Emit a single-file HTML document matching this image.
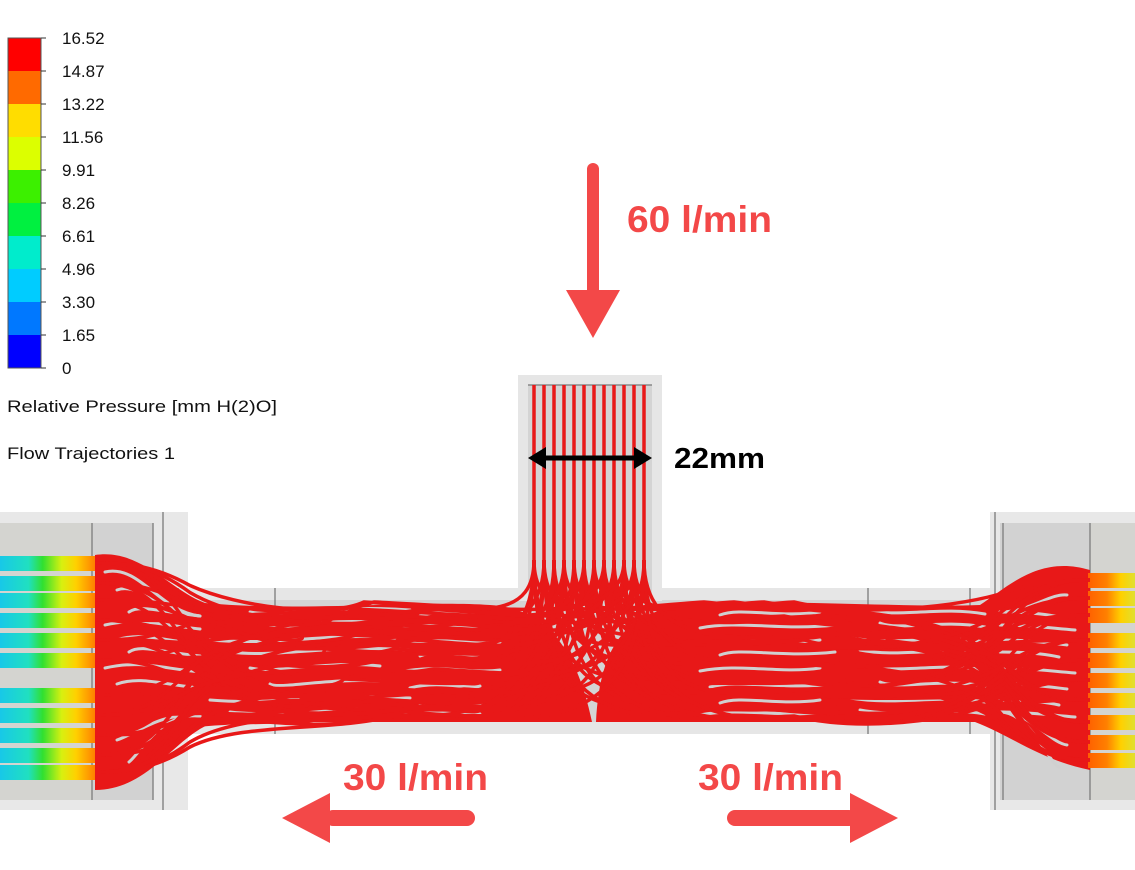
<!DOCTYPE html>
<html><head><meta charset="utf-8"><style>
html,body{margin:0;padding:0;background:#fff;width:1135px;height:870px;overflow:hidden}
svg{display:block}
text{font-family:"Liberation Sans",Arial,sans-serif}
</style></head><body>
<svg id="s" width="1135" height="870" viewBox="0 0 1135 870">
<defs>
<linearGradient id="gl" x1="0" x2="1" y1="0" y2="0">
<stop offset="0" stop-color="#18c8e8"/><stop offset="0.3" stop-color="#20e0c0"/><stop offset="0.45" stop-color="#30e030"/><stop offset="0.65" stop-color="#d8f010"/><stop offset="0.8" stop-color="#ffd000"/><stop offset="1" stop-color="#ff8000"/></linearGradient>
<linearGradient id="gr" x1="1" x2="0" y1="0" y2="0">
<stop offset="0" stop-color="#e0e030"/><stop offset="0.3" stop-color="#ffd000"/><stop offset="0.6" stop-color="#ff8000"/><stop offset="1" stop-color="#ff6000"/></linearGradient>
</defs>
<g>
<rect x="0" y="512" width="188" height="298" fill="#e8e8e8"/>
<rect x="0" y="523" width="153" height="277" fill="#d2d2d2"/>
<rect x="0" y="523" width="92" height="277" fill="#d4d4d0"/>
<rect x="990" y="512" width="145" height="298" fill="#e8e8e8"/>
<rect x="1000" y="523" width="135" height="277" fill="#d2d2d2"/>
<rect x="1090" y="523" width="45" height="277" fill="#d4d4d0"/>
<rect x="175" y="588" width="820" height="146" fill="#e6e6e6"/>
<rect x="175" y="600" width="820" height="122" fill="#d4d4d4"/>
<rect x="518" y="375" width="144" height="226" fill="#e6e6e6"/>
<rect x="528" y="385" width="124" height="216" fill="#d4d4d4"/>
<g stroke="#888" stroke-width="1.5">
<line x1="92" y1="523" x2="92" y2="800"/><line x1="153" y1="523" x2="153" y2="800"/><line x1="163" y1="512" x2="163" y2="810"/>
<line x1="178" y1="588" x2="178" y2="734"/><line x1="275" y1="588" x2="275" y2="734"/>
<line x1="868" y1="588" x2="868" y2="734"/><line x1="970" y1="588" x2="970" y2="734"/>
<line x1="995" y1="512" x2="995" y2="810"/><line x1="1003" y1="523" x2="1003" y2="800"/><line x1="1090" y1="523" x2="1090" y2="800"/>
<line x1="528" y1="385" x2="652" y2="385"/>
</g>
</g>
<g fill="#e81818">
<path d="M95 555 C140 548,170 590,205 603 C300 612,420 600,490 605 C540 608,575 640,592 722 L215 722 C175 735,150 790,95 790 Z"/>
<path d="M1090 570 C1040 555,1010 585,980 605 C900 608,780 598,690 605 C630 610,600 640,596 722 L975 722 C1010 735,1040 760,1090 770 Z"/>
</g>
<g id="bars"></g>
<g id="gaps" fill="none" stroke="#d0d0d0" stroke-width="3" stroke-linecap="round"></g>
<g id="lines" fill="none" stroke="#e81818" stroke-width="3.5"></g>
<g id="legend"></g>
<text x="7" y="412" font-size="17" textLength="270" lengthAdjust="spacingAndGlyphs" fill="#111">Relative Pressure [mm H(2)O]</text>
<text x="7" y="459" font-size="17" textLength="168" lengthAdjust="spacingAndGlyphs" fill="#111">Flow Trajectories 1</text>
<g fill="#f34848" stroke="none">
<rect x="587" y="163" width="12" height="135" rx="6"/>
<polygon points="566,290 620,290 593,338"/>
<rect x="325" y="810" width="150" height="16" rx="8"/>
<polygon points="330,793 330,843 282,818"/>
<rect x="727" y="810" width="130" height="16" rx="8"/>
<polygon points="850,793 850,843 898,818"/>
</g>
<g font-weight="bold" font-size="37" fill="#f34848">
<text x="627" y="232" textLength="145" lengthAdjust="spacingAndGlyphs">60 l/min</text>
<text x="343" y="790" textLength="145" lengthAdjust="spacingAndGlyphs">30 l/min</text>
<text x="698" y="790" textLength="145" lengthAdjust="spacingAndGlyphs">30 l/min</text>
</g>
<g>
<line x1="540" y1="458" x2="640" y2="458" stroke="#000" stroke-width="5"/>
<polygon points="528,458 546,447 546,469" fill="#000"/><polygon points="652,458 634,447 634,469" fill="#000"/>
<text x="674" y="468" font-size="29" textLength="91" lengthAdjust="spacingAndGlyphs" font-weight="bold" fill="#000">22mm</text>
</g>
</svg>
<script>
const tickLabels=["16.52","14.87","13.22","11.56","9.91","8.26","6.61","4.96","3.30","1.65","0"];
const bandColors=["#ff0000","#ff6a00","#ffdd00","#dcff00","#3cf000","#00f040","#00eccc","#00ccff","#0078ff","#0000ff"];
const leftRows=[563,583,600,620,640,660,695,715,735,755,772];
const rightRows=[580,598,615,640,660,680,700,722,742,760];
const inletX=[534,544,554,564,574,584,594,604,614,624,634,644];
const leftPipeY=[608,615,622,630,638,646,655,665,675,685,695,705,712,718,722];
const rightPipeY=[608,615,622,630,638,646,655,665,675,685,695,705,712,718,722];
const gapYs=[572,590,612,625,640,652,668,684,700,712,740,762];
const NS="http://www.w3.org/2000/svg";
const lg=document.getElementById('legend');
const barTop=38,bh=33;
bandColors.forEach((c,i)=>{const r=document.createElementNS(NS,'rect');
r.setAttribute('x',8);r.setAttribute('y',barTop+i*bh);r.setAttribute('width',33);r.setAttribute('height',bh);r.setAttribute('fill',c);


lg.appendChild(r);});
const fr=document.createElementNS(NS,'rect');fr.setAttribute('x',8);fr.setAttribute('y',barTop);fr.setAttribute('width',33);fr.setAttribute('height',bh*bandColors.length);fr.setAttribute('fill','none');fr.setAttribute('stroke','#555');lg.appendChild(fr);
tickLabels.forEach((t,i)=>{const y=barTop+i*bh;
const l=document.createElementNS(NS,'line');l.setAttribute('x1',41);l.setAttribute('x2',46);l.setAttribute('y1',y);l.setAttribute('y2',y);l.setAttribute('stroke','#333');lg.appendChild(l);
const tx=document.createElementNS(NS,'text');tx.setAttribute('x',62);tx.setAttribute('y',y+6);tx.setAttribute('font-size','17');tx.setAttribute('fill','#111');tx.textContent=t;


lg.appendChild(tx);});
const bars=document.getElementById('bars');
leftRows.forEach(y=>{const r=document.createElementNS(NS,'rect');r.setAttribute('x',0);r.setAttribute('y',y-7);r.setAttribute('width',95);r.setAttribute('height',15);r.setAttribute('fill','url(#gl)');


bars.appendChild(r);});
rightRows.forEach(y=>{const r=document.createElementNS(NS,'rect');r.setAttribute('x',1088);r.setAttribute('y',y-7);r.setAttribute('width',47);r.setAttribute('height',15);r.setAttribute('fill','url(#gr)');


bars.appendChild(r);});
const gaps=document.getElementById('gaps');
function gap(d){const g=document.createElementNS(NS,'path');g.setAttribute('d',d);


gaps.appendChild(g);}
gapYs.forEach((y,i)=>{
  const yc=Math.min(Math.max(y,612),712);
  if(y<700 || y>730){ gap(`M${105+(i%3)*12} ${y} C140 ${y-8},160 ${yc},200 ${yc+4}`); }
  if(y>=610 && y<=712){
    gap(`M${210+(i%4)*20} ${y} C280 ${y+6},330 ${y-8},${380+(i%3)*15} ${y-2}`);
    gap(`M${400+(i%3)*10} ${y+4} C440 ${y-4},470 ${y+6},${500-(i%2)*20} ${y+2}`);
    gap(`M${700+(i%3)*10} ${y+3} C740 ${y-5},780 ${y+6},${820+(i%2)*15} ${y}`);
    gap(`M${850+(i%4)*10} ${y-2} C900 ${y+6},940 ${y-6},${985} ${y+2}`);
  }
  if(y>=580 && y<=765){ gap(`M1000 ${yc} C1030 ${yc},1050 ${y+3},${1075-(i%3)*8} ${y+5}`); }
});
const lines=document.getElementById('lines');
function add(d){const p=document.createElementNS(NS,'path');p.setAttribute('d',d);


lines.appendChild(p);}
inletX.forEach((x,i)=>{
  const n=leftPipeY.length;
  add(`M${x} 385 L${x} 570`);
  for(let v=0;v<3;v++){
    const k=i+v*5;
    const yp=leftPipeY[(k*7+v)%n], yb=leftRows[(k*3+v)%leftRows.length];
    add(`M${x} 560 C${x} ${yp+20},${x-70-v*20} ${yp},${x-170-v*40} ${yp-6} C330 ${yp+10},240 ${yp},190 ${(yp+yb)/2} C150 ${yb},120 ${yb},95 ${yb}`);
    const yp2=rightPipeY[(k*5+v*2)%n], yb2=rightRows[(k*3+v)%rightRows.length];
    add(`M${x} 560 C${x} ${yp2+20},${x+70+v*20} ${yp2},${x+170+v*40} ${yp2-6} C860 ${yp2+10},950 ${yp2},1000 ${(yp2+yb2)/2} C1040 ${yb2},1070 ${yb2},1090 ${yb2}`);
  }
});
</script>
</body></html>
